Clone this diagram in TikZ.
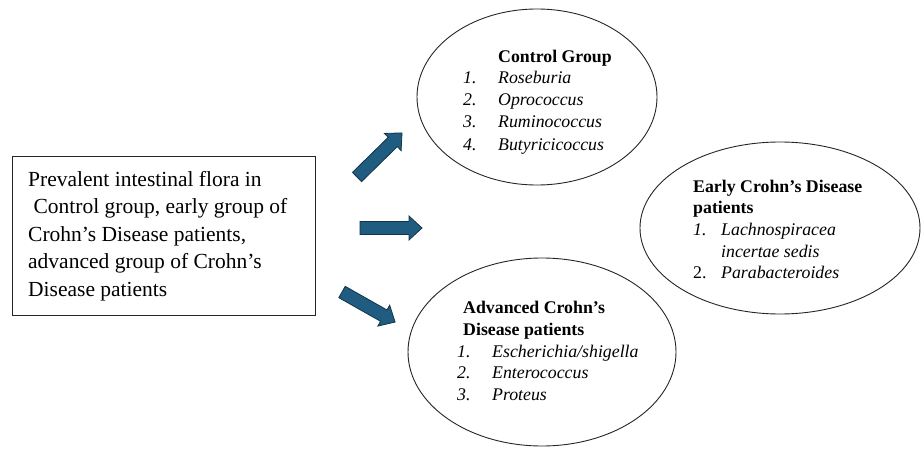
\documentclass[tikz,border=0pt]{standalone}
\usepackage{fontspec}
\setmainfont{Liberation Serif}
\usetikzlibrary{shapes.geometric}
\definecolor{arrowfill}{RGB}{31,92,128}
\definecolor{arrowline}{RGB}{18,52,74}
\tikzset{
  boxfont/.style={font=\fontsize{21.5}{27.5}\selectfont},
  ellfont/.style={font=\fontsize{17.8}{22}\selectfont},
  oval/.style={draw=black!85,line width=0.9pt,ellipse,inner sep=0pt},
  txt/.style={ellfont,anchor=base west,inner sep=0pt},
  blockarrow/.style={fill=arrowfill,draw=arrowline,line width=0.8pt,line join=miter},
}
\newcommand{\myblockarrow}[3]{%
  \begin{scope}[shift={(#1)},rotate=#2]
    \draw[blockarrow] (0,-6.5) -- (#3-13,-6.5) -- (#3-13,-12) -- (#3,0) -- (#3-13,12) -- (#3-13,6.5) -- (0,6.5) -- cycle;
  \end{scope}}
\begin{document}
\begin{tikzpicture}[x=1pt,y=1pt]
\useasboundingbox (0,0) rectangle (921,448);
\fill[white] (0,0) rectangle (921,448);
% left box
\draw[line width=1pt,black!85] (12,291) rectangle (315,133);
\node[boxfont,anchor=west,align=left,inner sep=0pt] (intro) at (28,212)
  {Prevalent intestinal flora in\\
   \hspace{0.25em}Control group, early group of\\
   Crohn’s Disease patients,\\
   advanced group of Crohn’s\\
   Disease patients};
% ellipses
\node[oval,minimum width=240,minimum height=176] (ctrl) at (537,351) {};
\node[oval,minimum width=280,minimum height=172] (early) at (780,220) {};
\node[oval,minimum width=268,minimum height=188] (adv) at (542,96) {};
% control group text
\node[txt] (c0) at (498,385) {\textbf{Control Group}};
\node[txt] (c1n) at (463,364) {\itshape 1.};
\node[txt] (c1) at (498,364) {\itshape Roseburia};
\node[txt] (c2n) at (463,342) {\itshape 2.};
\node[txt] (c2) at (498,342) {\itshape Oprococcus};
\node[txt] (c3n) at (463,320) {\itshape 3.};
\node[txt] (c3) at (498,320) {\itshape Ruminococcus};
\node[txt] (c4n) at (463,298) {\itshape 4.};
\node[txt] (c4) at (498,298) {\itshape Butyricicoccus};
% early text
\node[txt] (e0) at (693,256) {\textbf{Early Crohn’s Disease}};
\node[txt] (e0b) at (693,235) {\textbf{patients}};
\node[txt] (e1n) at (693,213) {\itshape 1.};
\node[txt] (e1) at (721,213) {\itshape Lachnospiracea};
\node[txt] (e1b) at (721,191) {\itshape incertae sedis};
\node[txt] (e2n) at (693,170) {2.};
\node[txt] (e2) at (721,170) {\itshape Parabacteroides};
% advanced text
\node[txt] (a0) at (463,135) {\textbf{Advanced Crohn’s}};
\node[txt] (a0b) at (463,113) {\textbf{Disease patients}};
\node[txt] (a1n) at (457,91) {\itshape 1.};
\node[txt] (a1) at (492,91) {\itshape Escherichia/shigella};
\node[txt] (a2n) at (457,70) {\itshape 2.};
\node[txt] (a2) at (492,70) {\itshape Enterococcus};
\node[txt] (a3n) at (457,48) {\itshape 3.};
\node[txt] (a3) at (492,48) {\itshape Proteus};
% block arrows
\coordinate (t1) at (357,271);
\coordinate (t2) at (360,220);
\coordinate (t3) at (342,156);
\myblockarrow{t1}{44.4}{63}
\myblockarrow{t2}{0}{62}
\myblockarrow{t3}{-29.5}{61}
\end{tikzpicture}
\end{document}
